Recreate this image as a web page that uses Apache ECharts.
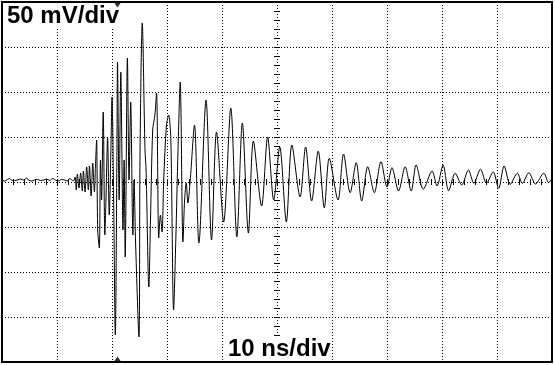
<!DOCTYPE html>
<html><head><meta charset="utf-8">
<script src="https://cdn.jsdelivr.net/npm/echarts@6/dist/echarts.min.js"></script>
<style>html,body{margin:0;padding:0;background:#fff}#c{width:555px;height:365px}</style>
</head><body><div id="c"></div>
<script>
// time in ns, voltage in mV
const timeNs = [
  0, 0.5, 1.0, 1.4, 1.7, 2.3, 2.8, 3.4, 3.9, 4.5, 4.8, 5.4, 5.9, 6.5, 7.0, 7.6, 8.1, 8.7, 9.2, 9.7, 10.3, 10.8, 11.4, 11.9, 12.3, 12.7, 13.0,
  13.3, 13.5, 13.7, 14.0, 14.3, 14.6, 14.8, 15.1, 15.4, 15.7, 15.9, 16.2, 16.5, 16.8, 17.0,
  17.2, 17.4, 17.7, 17.9, 18.1, 18.4, 18.7, 18.9, 19.2, 19.5, 19.8, 20.0, 20.3, 20.6, 20.9, 21.0, 21.3, 21.6, 22.0, 22.2,
  22.4, 22.8, 23.1, 23.4, 23.8, 24.0, 24.3, 24.9, 25.1, 25.5, 26.0, 26.2, 26.7, 27.0, 27.4, 27.8, 28.1, 28.5, 28.8, 29.1,
  29.4, 29.9, 30.3, 30.7, 31.2, 31.6, 32.0, 32.4, 32.9, 33.2, 33.5, 33.8, 34.2, 35.0, 35.8, 37.1, 38.1, 39.0, 40.3, 41.6,
  42.7, 43.7, 44.8, 45.7, 47.2, 48.3, 49.4, 50.5, 51.7, 52.7,
  54.2, 55.2, 56.3, 57.5, 58.6, 59.5, 61.1, 62.1, 63.3, 64.4, 65.4, 66.5, 67.7, 68.9, 70.0, 70.9, 72.1, 73.3, 74.4, 75.3,
  76.6, 78.2, 79.1, 80.2, 81.2, 82.4, 83.6, 84.8, 85.8, 87.0, 88.1, 89.3, 90.3, 91.3, 92.4, 93.7, 94.6, 95.8, 97.0, 98.5, 99.4, 100
];
const voltMv = [
  1.7, 1.1, 2.8, 3.9, 2.2, 1.7, 2.2, 3.3, 2.2, 4.4, 2.2, 1.1, 2.2, 2.8, 1.7, 2.2, 3.3, 1.7, 3.9, 2.2, 1.1, 2.8, 2.2, 1.1, 3.9, 2.2, 1.1,
  5.6, -8.9, 8.9, -6.7, 10.0, -10.0, 12.2, -11.1, 16.7, -8.9, 17.8, -15.6, 21.1, -11.1, 18.9,
  46.7, -53.3, -73.3, 24.4, -20, 77.8, -58.9, -20, 48.9, -36.7, 35.6, 94.4, -20, -170, 35.6, 133.3, -20, 122.2, -53.3, 24.4,
  -83.3, 137.8, 2.2, 88.9, -58.9, 2.2, -70, -172.2, 35.6, 176.7, 35.6, 13.3, -116.7, -42.2, 57.8, 74.4, 98.9, -62.2, -36.7, -55.6,
  2.2, 63.3, 74.4, 46.7, -142.2, -64.4, 35.6, 111.1, -66.7, -20, -1.1, -23.3, 0, 63.3, -67.8, 91.1, -64.4, 55.6, -44.4, 82.2,
  -61.1, 65.6, -56.7, 45.6, -26.7, 50, -20, 38.9, -44.4, 41.1,
  -16.7, 38.9, -21.1, 34.4, -28.6, 26.3, -20, 31.1, -11.9, 21.4, -21.1, 17.0, -11.9, 22.6, -5.6, 15.9, -10.0, 17.0, -10.0, 18.9,
  -8.1, 12.2, -4.4, 18.9, -9.7, 9.7, -3.3, 13.3, -1.4, 14.1, -1.4, 11.4, -7.0, 17.8, -2.6, 9.7, -1.4, 10.3, -2.2, 9.7, -0.8, 4.4
];
const timeRange = [0, 100];
const timeStep = 10;
const voltRange = [-200, 200];
const voltStep = 50;
const triggerNs = 21.0;
const voltLabel = '50 mV/div';
const timeLabel = '10 ns/div';

const chart = echarts.init(document.getElementById('c'), null, {renderer: 'canvas'});
const gridL = 2, gridT = 2, gridW = 550, gridH = 360;
const dotted = {color: '#000', width: 1, type: [1, 2]};
const tickStyle = {color: '#000', width: 1};
function centerX(pos) {
  return {type: 'value', min: timeRange[0], max: timeRange[1], interval: timeStep, position: pos, offset: -gridH / 2,
    axisLine: {show: false, onZero: false}, axisTick: {show: true, length: 3, lineStyle: tickStyle},
    minorTick: {show: true, splitNumber: 5, length: 3, lineStyle: tickStyle},
    axisLabel: {show: false}, splitLine: {show: false}};
}
function centerY(pos) {
  return {type: 'value', min: voltRange[0], max: voltRange[1], interval: voltStep, position: pos, offset: -gridW / 2,
    axisLine: {show: false, onZero: false}, axisTick: {show: true, length: 3, lineStyle: tickStyle},
    minorTick: {show: true, splitNumber: 5, length: 3, lineStyle: tickStyle},
    axisLabel: {show: false}, splitLine: {show: false}};
}
const font = 'bold 24px "Liberation Sans", Arial, sans-serif';
chart.setOption({
  animation: false,
  backgroundColor: '#fff',
  grid: {left: gridL, top: gridT, width: gridW, height: gridH, show: true, borderColor: '#000', borderWidth: 2,
    backgroundColor: 'transparent', outerBoundsMode: 'none', containLabel: false},
  xAxis: [
    {type: 'value', min: timeRange[0], max: timeRange[1], interval: timeStep,
      axisLine: {show: false, onZero: false}, axisTick: {show: false}, axisLabel: {show: false},
      splitLine: {show: true, lineStyle: dotted}},
    centerX('bottom'), centerX('top')
  ],
  yAxis: [
    {type: 'value', min: voltRange[0], max: voltRange[1], interval: voltStep,
      axisLine: {show: false, onZero: false}, axisTick: {show: false}, axisLabel: {show: false},
      splitLine: {show: true, lineStyle: dotted}},
    centerY('left'), centerY('right')
  ],
  series: [
    {type: 'line', xAxisIndex: 0, yAxisIndex: 0, showSymbol: false, smooth: 0.3,
      data: timeNs.map((t, i) => [t, voltMv[i]]),
      lineStyle: {color: '#000', width: 1}, z: 5},
    {type: 'scatter', xAxisIndex: 0, yAxisIndex: 0, clip: false, symbol: 'triangle', symbolRotate: 180,
      symbolSize: [7, 5], symbolOffset: [0, 3], itemStyle: {color: '#000'},
      data: [[triggerNs, voltRange[1]]], z: 200},
    {type: 'scatter', xAxisIndex: 0, yAxisIndex: 0, clip: false, symbol: 'triangle',
      symbolSize: [7, 5], symbolOffset: [0, -3], itemStyle: {color: '#000'},
      data: [[triggerNs, voltRange[0]]], z: 200}
  ],
  graphic: [
    {type: 'text', x: 6, y: 16, z: 100,
      style: {text: voltLabel, font: font, fill: '#000', verticalAlign: 'middle', backgroundColor: '#fff', padding: [0, 0, 0, 1]}},
    {type: 'text', x: 227, y: 349, z: 100,
      style: {text: timeLabel, font: font, fill: '#000', verticalAlign: 'middle', backgroundColor: '#fff', padding: [0, 1, 0, 1]}}
  ]
});
</script>
</body></html>
